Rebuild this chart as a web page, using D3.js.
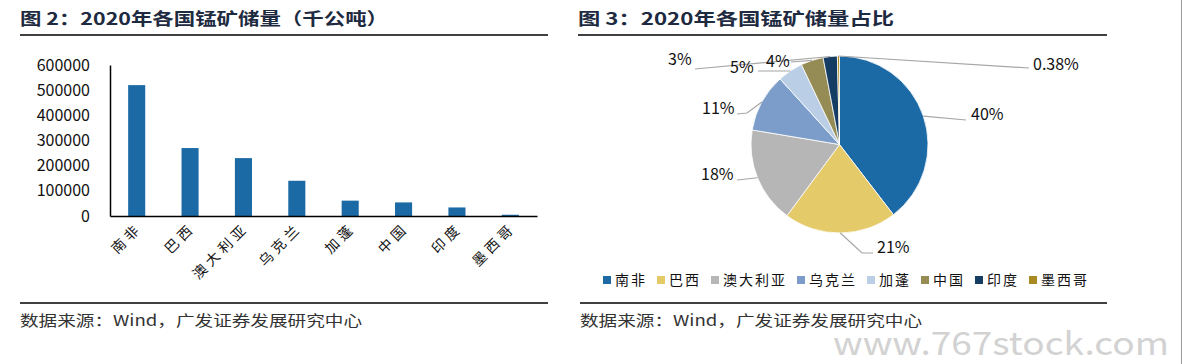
<!DOCTYPE html>
<html><head><meta charset="utf-8">
<script src="https://cdn.jsdelivr.net/npm/d3@7"></script>
<style>
body{margin:0;background:#fff;}
svg{display:block;}
text{font-family:"Noto Sans CJK SC","Liberation Sans",Arial,sans-serif;}
</style></head><body>
<svg id="c" width="1183" height="364"></svg>
<script>
// ---- data ----
const categories = ["南非","巴西","澳大利亚","乌克兰","加蓬","中国","印度","墨西哥"];
const reserves = [520000, 270000, 230000, 140000, 61000, 54000, 34000, 5000];
const yTicks = [0,100000,200000,300000,400000,500000,600000];
const pieLabels = ["40%","21%","18%","11%","5%","4%","3%","0.38%"];
const colors = ["#1C6AA5","#E5CA6A","#B6B6B6","#7C9DC9","#BACFE6","#958B55","#153D63","#A88A20"];
const title1 = "图 2：2020年各国锰矿储量（千公吨）";
const title2 = "图 3：2020年各国锰矿储量占比";
const source = "数据来源：Wind，广发证券发展研究中心";

const svg = d3.select("#c");
const titleColor = "#1d2a40";

// titles
function title(x, txt, w, x2){
  svg.append("text").attr("x",x).attr("y",25).attr("font-size",17).attr("font-weight","bold")
    .attr("fill",titleColor).attr("textLength",w).attr("lengthAdjust","spacingAndGlyphs").text(txt);
  svg.append("line").attr("x1",x).attr("x2",x2).attr("y1",35).attr("y2",35).attr("stroke","#000").attr("stroke-width",1.5);
}
title(20, title1, 368, 548);
title(578, title2, 316, 1107);

// sources
function src(x, x2){
  svg.append("line").attr("x1",x).attr("x2",x2).attr("y1",303).attr("y2",303).attr("stroke","#000").attr("stroke-width",1.5);
  svg.append("text").attr("x",x).attr("y",326).attr("font-size",15).attr("fill","#333")
    .attr("textLength",342).attr("lengthAdjust","spacingAndGlyphs").text(source);
}
src(20, 548);
src(580, 1107);

// page border right
svg.append("line").attr("x1",1181.5).attr("x2",1181.5).attr("y1",0).attr("y2",364).attr("stroke","#999").attr("stroke-width",1);

// ---- bar chart ----
const x = d3.scaleBand().domain(categories).range([110,537]).paddingInner(0.68).paddingOuter(0.34);
const y = d3.scaleLinear().domain([0,600000]).range([216,65]);

svg.append("g").selectAll("rect").data(reserves).join("rect")
  .attr("x",(d,i)=>x(categories[i])).attr("width",x.bandwidth())
  .attr("y",d=>y(d)).attr("height",d=>216-y(d)).attr("fill",colors[0]);

const yAxis = svg.append("g").attr("transform","translate(110,0)")
  .call(d3.axisLeft(y).tickValues(yTicks).tickSize(0).tickPadding(20).tickFormat(d3.format("d")));
yAxis.select(".domain").attr("stroke","#000").attr("stroke-width",1.5);
yAxis.selectAll("text").attr("font-size",16).attr("fill","#111").attr("font-family","Liberation Sans, Arial, sans-serif");

const xAxis = svg.append("g").attr("transform","translate(0,216)")
  .call(d3.axisBottom(x).tickSize(0).tickFormat(""));
xAxis.select(".domain").attr("stroke","#000").attr("stroke-width",1.5);

svg.append("g").selectAll("text").data(categories).join("text")
  .attr("transform",d=>`translate(${x(d)+x.bandwidth()/2+6},229) rotate(-45)`)
  .attr("text-anchor","end").attr("font-size",14).attr("fill","#111")
  .attr("letter-spacing",4).text(d=>d);

// ---- pie chart ----
const cx = 839.5, cy = 144.5, R = 88.5;
const pie = d3.pie().sort(null).value(d=>d);
const arcs = pie(reserves);
const arc = d3.arc().innerRadius(0).outerRadius(R);
const pg = svg.append("g").attr("transform",`translate(${cx},${cy})`);
pg.selectAll("path").data(arcs).join("path").attr("d",arc)
  .attr("fill",(d,i)=>colors[i]).attr("stroke","#fff").attr("stroke-width",0.8);

// label anchors (text x, baseline y) and leader bend points
const labelPos = [[971,120],[877,253],[701,180],[702,114],[730,73],[766,67],[668,65],[1033,70]];
const leaders = [
  [[966,120]],
  [[862,253],[873,253]],
  [[737,180]],
  [[747,113],[737,114]],
  [[758,71]],
  [[791,62]],
  [[695,69]],
  [[1029,68]]
];
const edge = a => { const m=(a.startAngle+a.endAngle)/2; return [cx+R*Math.sin(m), cy-R*Math.cos(m)]; };
arcs.forEach((a,i)=>{
  const pts = [edge(a), ...leaders[i]];
  svg.append("path").attr("d",d3.line()(pts)).attr("fill","none").attr("stroke","#A6A6A6").attr("stroke-width",1.2);
});
svg.append("g").selectAll("text").data(pieLabels).join("text")
  .attr("x",(d,i)=>labelPos[i][0]).attr("y",(d,i)=>labelPos[i][1])
  .attr("font-size",16).attr("fill","#111").attr("font-family","Liberation Sans, Arial, sans-serif")
  .text(d=>d);

// legend
const lg = svg.append("g");
let lx = 603;
categories.forEach((c,i)=>{
  lg.append("rect").attr("x",lx).attr("y",276).attr("width",8).attr("height",8).attr("fill",colors[i]);
  const w = c.length*16 - 2;
  lg.append("text").attr("x",lx+12).attr("y",285).attr("font-size",14).attr("fill","#111")
    .attr("textLength",w).attr("lengthAdjust","spacing").text(c);
  lx += 12 + w + 12;
});

// watermark
svg.append("text").attr("x",1169).attr("y",355).attr("text-anchor","end").attr("font-size",32)
  .attr("fill","#d2d2d2").attr("font-family","Liberation Sans Narrow, Liberation Sans, sans-serif")
  .attr("textLength",336).attr("lengthAdjust","spacingAndGlyphs").text("www.767stock.com");
</script>
</body></html>
